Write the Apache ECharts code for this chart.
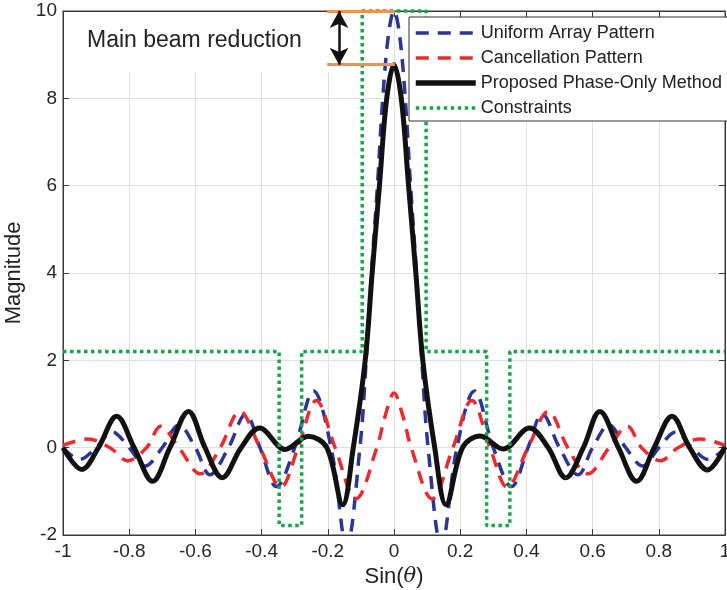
<!DOCTYPE html>
<html>
<head>
<meta charset="utf-8">
<script src="https://cdn.jsdelivr.net/npm/echarts@6/dist/echarts.min.js"></script>
<style>
html,body{margin:0;padding:0;background:#fff;}
#chart{width:727px;height:590px;}
</style>
</head>
<body>
<div id="chart"></div>
<script>
// ---- data ----
var xTicks = [-1, -0.8, -0.6, -0.4, -0.2, 0, 0.2, 0.4, 0.6, 0.8, 1];
var yTicks = [-2, 0, 2, 4, 6, 8, 10];

var uniformX = [-1, -0.95, -0.9, -0.852, -0.8, -0.752, -0.7, -0.65, -0.6, -0.556, -0.5, -0.448, -0.405, -0.355, -0.30, -0.243, -0.19, -0.143, -0.103, -0.084, -0.068, -0.05, -0.034, -0.016, 0,
                0.016, 0.034, 0.05, 0.068, 0.084, 0.103, 0.143, 0.19, 0.243, 0.30, 0.355, 0.405, 0.448, 0.5, 0.556, 0.6, 0.65, 0.7, 0.752, 0.8, 0.852, 0.9, 0.95, 1];
var uniformY = [0, -0.27, 0, 0.36, 0, -0.42, 0, 0.52, 0, -0.62, 0, 0.77, 0, -0.89, 0, 1.30, 0, -2.25, 0, 2, 4, 6, 8, 9.5, 10,
                9.5, 8, 6, 4, 2, 0, -2.25, 0, 1.30, 0, -0.89, 0, 0.77, 0, -0.62, 0, 0.52, 0, -0.42, 0, 0.36, 0, -0.27, 0];

var cancelX = [-1, -0.925, -0.858, -0.805, -0.748, -0.705, -0.65, -0.585, -0.525, -0.466, -0.405, -0.342, -0.29, -0.235, -0.178, -0.115, -0.052, -0.027, 0,
               0.027, 0.052, 0.115, 0.178, 0.235, 0.29, 0.342, 0.405, 0.466, 0.525, 0.585, 0.65, 0.705, 0.748, 0.805, 0.858, 0.925, 1];
var cancelY = [0.05, 0.2, 0, -0.3, 0, 0.49, 0, -0.6, 0, 0.83, 0, -0.9, 0, 1.08, 0, -1.17, 0, 0.72, 1.25,
               0.72, 0, -1.17, 0, 1.08, 0, -0.9, 0, 0.83, 0, -0.6, 0, 0.49, 0, -0.3, 0, 0.2, 0.05];

var proposedX = [-1, -0.943, -0.893, -0.838, -0.785, -0.729, -0.677, -0.621, -0.571, -0.519, -0.462, -0.406, -0.329, -0.259, -0.203, -0.155, -0.123, -0.087, -0.066, -0.044, -0.022, 0,
                 0.022, 0.044, 0.066, 0.087, 0.123, 0.157, 0.207, 0.26, 0.330, 0.409, 0.466, 0.519, 0.572, 0.622, 0.678, 0.733, 0.786, 0.840, 0.893, 0.947, 1];
var proposedY = [0, -0.50, 0, 0.72, 0, -0.77, 0, 0.83, 0, -0.69, 0, 0.45, -0.04, 0.26, 0, -1.31, 0, 2, 4, 6, 8, 8.77,
                 8, 6, 4, 2, 0, -1.31, 0, 0.27, -0.03, 0.45, 0, -0.69, 0, 0.83, 0, -0.77, 0, 0.72, 0, -0.51, 0.02];

var constraintX = [-1, -0.347, -0.347, -0.279, -0.279, -0.096, -0.096, 0.097, 0.097, 0.280, 0.280, 0.350, 0.350, 1];
var constraintY = [2.2, 2.2, -1.78, -1.78, 2.2, 2.2, 10, 10, 2.2, 2.2, -1.78, -1.78, 2.2, 2.2];

var seriesNames = ['Uniform Array Pattern', 'Cancellation Pattern', 'Proposed Phase-Only Method', 'Constraints'];
var mainBeamPeak = 10, reducedPeak = 8.77;

function zip(xs, ys) { return xs.map(function (x, i) { return [x, ys[i]]; }); }

var FONT = '"Liberation Sans", Arial, Helvetica, sans-serif';
var BLUE = '#2b3595', RED = '#ee2a2e', BLACK = '#111111', GREEN = '#13a548', ORANGE = '#e8935a';
var SMOOTH = 0.36;
var chart = echarts.init(document.getElementById('chart'), null, {renderer: 'canvas'});

var axisCommonX = {type: 'value', min: -1, max: 1, interval: 0.2};
var frameLine = {show: true, onZero: false, lineStyle: {color: '#3a3a3a', width: 1}};
var frameTick = {show: true, inside: true, length: 6, lineStyle: {color: '#3a3a3a'}};

var option = {
  animation: false,
  backgroundColor: '#fff',
  grid: {left: 63, right: 2, top: 11, bottom: 55, show: true, borderColor: '#3a3a3a', borderWidth: 1,
         backgroundColor: 'transparent', containLabel: false, outerBoundsMode: 'none'},
  legend: {
    data: [
      {name: seriesNames[0], lineStyle: {color: BLUE, width: 3.5, type: [13, 9]}},
      {name: seriesNames[1], lineStyle: {color: RED, width: 3.5, type: [13, 9]}},
      {name: seriesNames[2], lineStyle: {color: BLACK, width: 5.5, type: 'solid'}},
      {name: seriesNames[3], lineStyle: {color: GREEN, width: 3.5, type: [3.5, 3.5]}}
    ],
    orient: 'vertical',
    left: 409, top: 17,
    backgroundColor: '#fff',
    borderColor: '#333', borderWidth: 1, borderRadius: 0,
    padding: [7, 12, 4, 4],
    itemWidth: 60, itemHeight: 18, itemGap: 7,
    itemStyle: {color: 'transparent', borderColor: 'transparent', borderWidth: 0, opacity: 0},
    textStyle: {fontFamily: FONT, fontSize: 18, color: '#222', lineHeight: 18},
    selectedMode: false
  },
  xAxis: [
    Object.assign({}, axisCommonX, {
      position: 'bottom',
      name: '{n|Sin(}{t|θ}{n|)}',
      nameLocation: 'middle', nameGap: 24,
      nameTextStyle: {rich: {n: {fontFamily: FONT, fontSize: 22, color: '#222'}, t: {fontFamily: '"DejaVu Serif", serif', fontStyle: 'italic', fontSize: 21, color: '#222'}}},
      axisLine: frameLine, axisTick: frameTick,
      axisLabel: {fontFamily: FONT, fontSize: 19, color: '#262626', margin: 7,
        formatter: function (v) { var t = xTicks.filter(function (k) { return Math.abs(k - v) < 1e-9; }); return t.length ? String(t[0]) : ''; }},
      splitLine: {show: true, lineStyle: {color: '#e1e1e1', width: 1}}
    }),
    Object.assign({}, axisCommonX, {
      position: 'top',
      axisLine: frameLine, axisTick: frameTick,
      axisLabel: {show: false}, splitLine: {show: false}
    })
  ],
  yAxis: [
    {
      type: 'value', min: -2, max: 10, interval: 2, position: 'left',
      name: 'Magnitude', nameLocation: 'middle', nameGap: 16, nameRotate: 90,
      nameTextStyle: {fontFamily: FONT, fontSize: 22, color: '#222'},
      axisLine: frameLine, axisTick: frameTick,
      axisLabel: {fontFamily: FONT, fontSize: 19, color: '#262626', margin: 6,
        formatter: function (v) { return yTicks.indexOf(v) >= 0 ? String(v) : ''; }},
      splitLine: {show: true, lineStyle: {color: '#e1e1e1', width: 1}}
    },
    {
      type: 'value', min: -2, max: 10, interval: 2, position: 'right',
      axisLine: frameLine, axisTick: frameTick,
      axisLabel: {show: false}, splitLine: {show: false}
    }
  ],
  series: [
    {
      name: seriesNames[0], type: 'line', data: zip(uniformX, uniformY),
      smooth: SMOOTH, symbol: 'none', clip: true,
      lineStyle: {color: BLUE, width: 3.5, type: [13, 9]}, itemStyle: {color: BLUE}
    },
    {
      name: seriesNames[1], type: 'line', data: zip(cancelX, cancelY),
      smooth: SMOOTH, symbol: 'none', clip: true,
      lineStyle: {color: RED, width: 3.5, type: [13, 9]}, itemStyle: {color: RED}
    },
    {
      name: seriesNames[2], type: 'line', data: zip(proposedX, proposedY),
      smooth: SMOOTH, symbol: 'none', clip: true,
      lineStyle: {color: BLACK, width: 5}, itemStyle: {color: BLACK}
    },
    {
      name: seriesNames[3], type: 'line', data: zip(constraintX, constraintY),
      smooth: false, symbol: 'none', clip: false,
      lineStyle: {color: GREEN, width: 3.5, type: [3.5, 3.5]}, itemStyle: {color: GREEN}
    },
    {
      name: 'annotation', type: 'line', data: [], symbol: 'none', silent: true,
      markLine: {
        silent: true, animation: false, label: {show: false},
        lineStyle: {type: 'solid'},
        data: [
          [{coord: [-0.202, mainBeamPeak], symbol: 'none', lineStyle: {color: ORANGE, width: 3}}, {coord: [0.003, mainBeamPeak], symbol: 'none'}],
          [{coord: [-0.202, reducedPeak], symbol: 'none', lineStyle: {color: ORANGE, width: 3}}, {coord: [0.003, reducedPeak], symbol: 'none'}],
          [{coord: [-0.166, mainBeamPeak], symbol: 'arrow', symbolSize: [14, 17], lineStyle: {color: BLACK, width: 2.5}, itemStyle: {color: BLACK}},
           {coord: [-0.166, reducedPeak], symbol: 'arrow', symbolSize: [14, 17]}]
        ]
      }
    }
  ],
  graphic: [
    {type: 'rect', z: 1, shape: {x: 64, y: 12, width: 268, height: 60}, style: {fill: '#fff'}, silent: true},
    {type: 'text', z: 10, left: 87, top: 29, style: {text: 'Main beam reduction', fontFamily: FONT, fontSize: 23, fill: '#222'}}
  ]
};
chart.setOption(option);
</script>
</body>
</html>
